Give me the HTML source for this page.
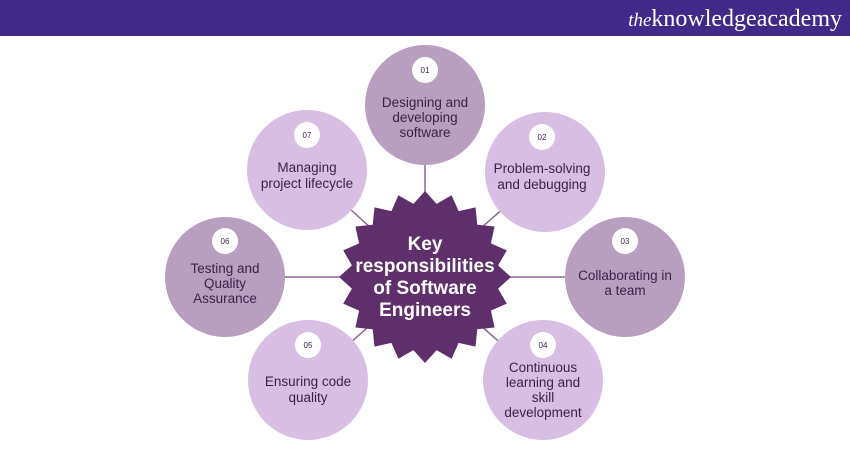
<!DOCTYPE html>
<html><head><meta charset="utf-8"><style>
body{margin:0;width:850px;height:450px;background:#fff;overflow:hidden;font-family:"Liberation Sans",sans-serif}
</style></head><body>
<svg width="850" height="450" xmlns="http://www.w3.org/2000/svg" style="position:absolute;left:0;top:0">
<rect x="0" y="0" width="850" height="36" fill="#41298a"/>
<text x="842" y="26" text-anchor="end" font-family="Liberation Serif,serif" font-size="24" fill="#fff"><tspan font-style="italic" font-size="19">the</tspan>knowledgeacademy</text>
<g stroke="#8a6a92" stroke-width="1.5">
<line x1="425" y1="165" x2="425" y2="200"/>
<line x1="425" y1="277" x2="545" y2="172"/>
<line x1="425" y1="277" x2="625" y2="277"/>
<line x1="425" y1="277" x2="543" y2="380"/>
<line x1="425" y1="277" x2="308" y2="380"/>
<line x1="425" y1="277" x2="225" y2="277"/>
<line x1="425" y1="277" x2="307" y2="170"/>
</g>
<g>
<circle cx="425" cy="105" r="60" fill="#b89fbf"/>
<circle cx="545" cy="172" r="60" fill="#d8bee2"/>
<circle cx="625" cy="277" r="60" fill="#b89fbf"/>
<circle cx="543" cy="380" r="60" fill="#d8bee2"/>
<circle cx="308" cy="380" r="60" fill="#d8bee2"/>
<circle cx="225" cy="277" r="60" fill="#b89fbf"/>
<circle cx="307" cy="170" r="60" fill="#d8bee2"/>
</g>
<polygon id="star" fill="#5e2f6b" points=""/>
<g fill="#fff">
<circle cx="425" cy="70" r="13"/><circle cx="542" cy="137" r="13"/><circle cx="625" cy="241" r="13"/>
<circle cx="543" cy="345" r="13"/><circle cx="308" cy="345" r="13"/><circle cx="225" cy="241" r="13"/><circle cx="307" cy="135" r="13"/>
</g>
<g font-size="8" fill="#3b1f47" text-anchor="middle">
<text x="425" y="73">01</text><text x="542" y="140">02</text><text x="625" y="244">03</text>
<text x="543" y="348">04</text><text x="308" y="348">05</text><text x="225" y="244">06</text><text x="307" y="138">07</text>
</g>
<g font-size="13.5" fill="#3b1f47" text-anchor="middle">
<text x="425" y="107">Designing and</text><text x="425" y="122">developing</text><text x="425" y="137">software</text>
<text x="542" y="173">Problem-solving</text><text x="542" y="189">and debugging</text>
<text x="625" y="280">Collaborating in</text><text x="625" y="295">a team</text>
<text x="543" y="372">Continuous</text><text x="543" y="387">learning and</text><text x="543" y="402">skill</text><text x="543" y="417">development</text>
<text x="308" y="386">Ensuring code</text><text x="308" y="402">quality</text>
<text x="225" y="273">Testing and</text><text x="225" y="288">Quality</text><text x="225" y="303">Assurance</text>
<text x="307" y="172">Managing</text><text x="307" y="188">project lifecycle</text>
</g>
<g font-size="19" font-weight="bold" fill="#fff" text-anchor="middle">
<text x="425" y="250">Key</text><text x="425" y="272">responsibilities</text><text x="425" y="294">of Software</text><text x="425" y="316">Engineers</text>
</g>
</svg>
<script>
var p=[],n=20,cx=425,cy=277;
for(var i=0;i<n*2;i++){var a=Math.PI*i/n-Math.PI/2,r=i%2?74:86;p.push((cx+r*Math.cos(a)).toFixed(1)+","+(cy+r*Math.sin(a)).toFixed(1));}
document.getElementById("star").setAttribute("points",p.join(" "));
</script>
</body></html>
